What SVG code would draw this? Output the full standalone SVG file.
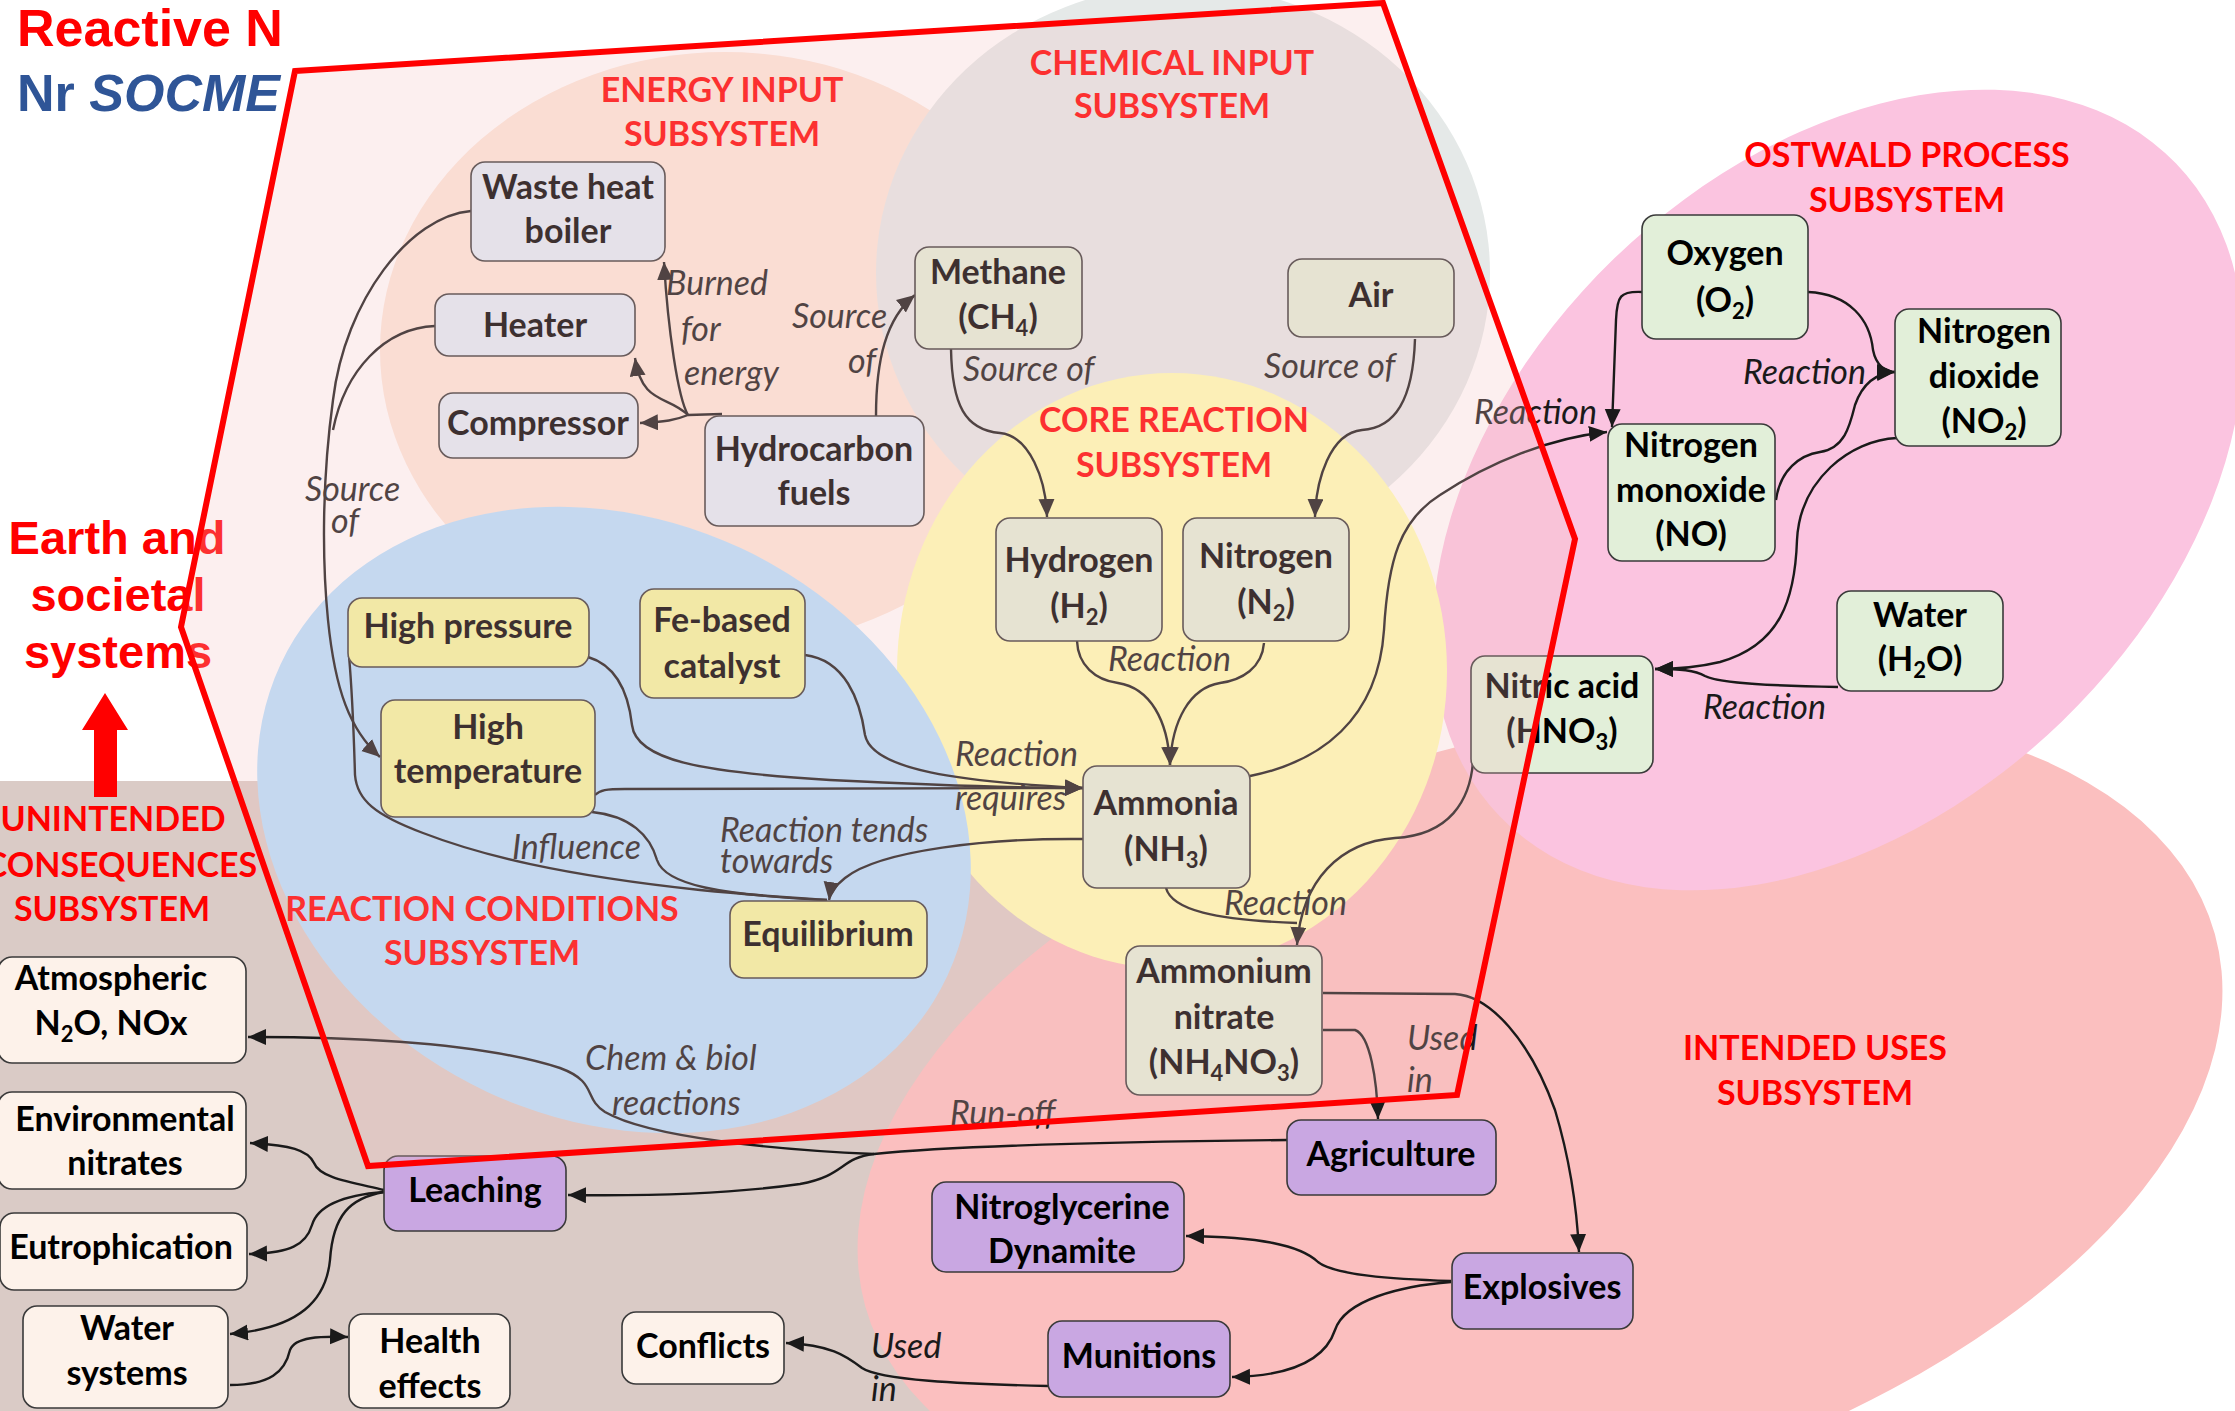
<svg xmlns="http://www.w3.org/2000/svg" width="2235" height="1411" viewBox="0 0 2235 1411">
<defs>
<style>
.n rect{stroke:#3a3a3a;stroke-width:1.6}
.en rect{fill:#E0ECF7}
.gr rect{fill:#E2EFD9}
.ye rect{fill:#F2F69E}
.un rect{fill:#FDF2EA}
.pu rect{fill:#C9A7E2}
.t{font-family:Lato,"Open Sans",sans-serif;font-weight:bold;font-size:34px;text-anchor:middle;fill:#000}
.l{font-family:Lato,"Open Sans",sans-serif;font-style:italic;font-size:34px;fill:#1a1a1a}
.s{font-family:Lato,"Open Sans",sans-serif;font-weight:bold;font-size:34px;text-anchor:middle;fill:#FF0000}
.c path{fill:none;stroke:#1a1a1a;stroke-width:2.4}
.a{marker-end:url(#ah)}
.sub{font-size:22px}
</style>
<marker id="ah" markerUnits="userSpaceOnUse" markerWidth="19" markerHeight="17" refX="18" refY="8" orient="auto">
<path d="M0,0 L18,8 L0,16 z" fill="#1a1a1a"/>
</marker>
</defs>
<rect width="2235" height="1411" fill="#fff"/>
<g id="backgrounds">
<rect x="0" y="781" width="1300" height="630" fill="#DACBC6"/>
<ellipse cx="725" cy="350" rx="345" ry="298" fill="#FCE7DA"/>
<ellipse cx="1183" cy="273" rx="307" ry="288" fill="#E5E9E8"/>
<ellipse cx="1540" cy="1120" rx="700" ry="382" transform="rotate(-15.4 1540 1120)" fill="#FBBFBF"/>
<ellipse cx="1838" cy="490" rx="470" ry="322" transform="rotate(-44 1838 490)" fill="#FBC4E0"/>
<ellipse cx="1172" cy="671" rx="275" ry="298" fill="#FFFFB4"/>
<ellipse cx="614" cy="820" rx="368" ry="300" transform="rotate(25 614 820)" fill="#B6E1FF"/>
</g>
<g id="subsystem-labels">
<text class="s" x="722" y="102">ENERGY INPUT</text>
<text class="s" x="722" y="146">SUBSYSTEM</text>
<text class="s" x="1172" y="75">CHEMICAL INPUT</text>
<text class="s" x="1172" y="118">SUBSYSTEM</text>
<text class="s" x="1174" y="432">CORE REACTION</text>
<text class="s" x="1174" y="477">SUBSYSTEM</text>
<text class="s" x="1907" y="167">OSTWALD PROCESS</text>
<text class="s" x="1907" y="212">SUBSYSTEM</text>
<text class="s" x="482" y="921">REACTION CONDITIONS</text>
<text class="s" x="482" y="965">SUBSYSTEM</text>
<text class="s" x="113" y="831">UNINTENDED</text>
<text class="s" x="121" y="877">CONSEQUENCES</text>
<text class="s" x="112" y="921">SUBSYSTEM</text>
<text class="s" x="1815" y="1060">INTENDED USES</text>
<text class="s" x="1815" y="1105">SUBSYSTEM</text>
</g>
<g id="connectors" class="c">
<path d="M722,414 L688,415"/>
<path class="a" d="M688,415 C678,398 668,330 664,262"/>
<path class="a" d="M688,415 C668,395 642,405 635,358"/>
<path class="a" d="M688,415 C676,420 665,422 640,423"/>
<path class="a" d="M876,416 C876,360 886,318 915,295"/>
<path class="a" d="M471,211 C410,216 345,300 333,400 C322,480 322,560 328,620 C335,690 350,730 380,757"/>
<path d="M435,326 C385,328 345,370 333,430"/>
<path d="M349,656 C352,690 354,740 355,775 C357,800 375,815 423,833 C480,855 560,875 700,890 C760,896 800,898 827,900"/>
<path d="M592,812 C630,816 650,835 657,860 C665,885 720,895 827,900"/>
<path class="a" d="M1083,839 C990,838 880,850 845,878 C835,886 830,893 829,900"/>
<path class="a" d="M588,657 C615,665 628,690 632,725 C636,760 700,772 830,780 C950,786 1030,788 1083,788"/>
<path class="a" d="M805,655 C845,660 860,700 865,735 C872,770 960,782 1083,788"/>
<path class="a" d="M595,795 C600,790 606,789 625,789 L1083,788"/>
<path class="a" d="M951,349 C952,405 965,430 1000,433 C1030,436 1046,480 1047,517"/>
<path class="a" d="M1415,339 C1413,400 1395,428 1362,430 C1330,433 1316,480 1315,517"/>
<path class="a" d="M1077,641 C1078,665 1095,680 1118,683 C1150,688 1168,720 1170,765"/>
<path class="a" d="M1264,643 C1262,668 1242,680 1220,683 C1190,688 1172,720 1170,765"/>
<path class="a" d="M1250,776 C1320,762 1378,720 1384,630 C1388,560 1400,520 1440,495 C1490,462 1550,438 1607,432"/>
<path class="a" d="M1642,292 C1620,291 1617,296 1616,320 L1612,427"/>
<path class="a" d="M1808,292 C1850,294 1870,320 1873,350 C1876,365 1885,372 1895,372"/>
<path class="a" d="M1776,500 C1780,470 1800,455 1820,452 C1845,448 1850,425 1855,405 C1862,385 1875,373 1895,372"/>
<path class="a" d="M1897,438 C1850,440 1800,480 1797,540 C1795,600 1780,645 1720,662 C1695,668 1675,669 1655,669"/>
<path class="a" d="M1838,687 C1780,686 1720,684 1705,676 C1695,670 1680,669 1655,669"/>
<path class="a" d="M1473,762 C1470,800 1450,835 1395,838 C1340,842 1302,880 1297,945"/>
<path d="M1166,888 C1172,910 1215,920 1297,923"/>
<path class="a" d="M1323,1030 L1355,1030 C1370,1035 1377,1080 1378,1119"/>
<path class="a" d="M1323,993 L1455,994 C1490,996 1530,1040 1555,1110 C1570,1160 1577,1210 1579,1252"/>
<path class="a" d="M1287,1140 C1100,1142 950,1146 874,1154 C840,1158 845,1176 800,1184 C730,1194 640,1196 568,1195"/>
<path class="a" d="M874,1154 C780,1150 650,1138 605,1112 C583,1098 598,1082 560,1068 C480,1042 350,1037 248,1037"/>
<path class="a" d="M384,1190 C350,1182 320,1178 314,1163 C308,1150 290,1145 250,1143"/>
<path class="a" d="M384,1192 C345,1195 318,1205 312,1225 C306,1245 290,1253 249,1254"/>
<path class="a" d="M384,1192 C350,1198 333,1215 330,1260 C326,1300 300,1328 230,1334"/>
<path class="a" d="M230,1385 C270,1385 285,1372 290,1350 C295,1337 320,1336 348,1337"/>
<path class="a" d="M1451,1281 C1390,1279 1335,1275 1318,1262 C1300,1245 1260,1237 1186,1236"/>
<path class="a" d="M1451,1282 C1400,1286 1345,1300 1335,1330 C1325,1360 1290,1376 1232,1377"/>
<path class="a" d="M1048,1386 C960,1384 880,1380 862,1368 C845,1355 830,1345 786,1343"/>
<text class="l" x="666" y="295">Burned</text>
<text class="l" x="681" y="341">for</text>
<text class="l" x="684" y="385">energy</text>
<text class="l" x="792" y="328">Source</text>
<text class="l" x="848" y="373">of</text>
<text class="l" x="963" y="381">Source of</text>
<text class="l" x="1264" y="378">Source of</text>
<text class="l" x="305" y="501">Source</text>
<text class="l" x="331" y="533">of</text>
<text class="l" x="1108" y="671">Reaction</text>
<text class="l" x="955" y="766">Reaction</text>
<text class="l" x="955" y="810">requires</text>
<text class="l" x="720" y="842">Reaction tends</text>
<text class="l" x="720" y="873">towards</text>
<text class="l" x="512" y="859">Influence</text>
<text class="l" x="1474" y="424">Reaction</text>
<text class="l" x="1743" y="384">Reaction</text>
<text class="l" x="1703" y="719">Reaction</text>
<text class="l" x="1224" y="915">Reaction</text>
<text class="l" x="1407" y="1050">Used</text>
<text class="l" x="1407" y="1092">in</text>
<text class="l" x="950" y="1125">Run-off</text>
<text class="l" x="585" y="1070">Chem &amp; biol</text>
<text class="l" x="612" y="1115">reactions</text>
<text class="l" x="871" y="1358">Used</text>
<text class="l" x="871" y="1401">in</text>
</g>
<g id="wasteheat" class="n en"><rect x="471" y="162" width="194" height="99" rx="14"/><text class="t" x="568" y="199">Waste heat</text><text class="t" x="568" y="243">boiler</text></g>
<g id="heater" class="n en"><rect x="435" y="294" width="200" height="62" rx="14"/><text class="t" x="535" y="337">Heater</text></g>
<g id="compressor" class="n en"><rect x="439" y="393" width="199" height="65" rx="14"/><text class="t" x="538" y="435">Compressor</text></g>
<g id="hydrocarbon" class="n en"><rect x="705" y="416" width="219" height="110" rx="14"/><text class="t" x="814" y="461">Hydrocarbon</text><text class="t" x="814" y="505">fuels</text></g>
<g id="methane" class="n gr"><rect x="915" y="247" width="167" height="102" rx="14"/><text class="t" x="998" y="284">Methane</text><text class="t" x="998" y="329">(CH<tspan class="sub" dy="7">4</tspan><tspan dy="-7">)</tspan></text></g>
<g id="air" class="n gr"><rect x="1288" y="259" width="166" height="78" rx="14"/><text class="t" x="1371" y="307">Air</text></g>
<g id="hydrogen" class="n gr"><rect x="996" y="518" width="166" height="123" rx="14"/><text class="t" x="1079" y="572">Hydrogen</text><text class="t" x="1079" y="618">(H<tspan class="sub" dy="7">2</tspan><tspan dy="-7">)</tspan></text></g>
<g id="nitrogen" class="n gr"><rect x="1183" y="518" width="166" height="123" rx="14"/><text class="t" x="1266" y="568">Nitrogen</text><text class="t" x="1266" y="614">(N<tspan class="sub" dy="7">2</tspan><tspan dy="-7">)</tspan></text></g>
<g id="ammonia" class="n gr"><rect x="1083" y="766" width="167" height="122" rx="14"/><text class="t" x="1166" y="815">Ammonia</text><text class="t" x="1166" y="861">(NH<tspan class="sub" dy="7">3</tspan><tspan dy="-7">)</tspan></text></g>
<g id="ammoniumnitrate" class="n gr"><rect x="1126" y="946" width="196" height="149" rx="14"/><text class="t" x="1224" y="983">Ammonium</text><text class="t" x="1224" y="1029">nitrate</text><text class="t" x="1224" y="1074">(NH<tspan class="sub" dy="7">4</tspan><tspan dy="-7">NO</tspan><tspan class="sub" dy="7">3</tspan><tspan dy="-7">)</tspan></text></g>
<g id="nitricacid" class="n gr"><rect x="1471" y="656" width="182" height="117" rx="14"/><text class="t" x="1562" y="698">Nitric acid</text><text class="t" x="1562" y="743">(HNO<tspan class="sub" dy="7">3</tspan><tspan dy="-7">)</tspan></text></g>
<g id="oxygen" class="n gr"><rect x="1642" y="215" width="166" height="124" rx="14"/><text class="t" x="1725" y="265">Oxygen</text><text class="t" x="1725" y="312">(O<tspan class="sub" dy="7">2</tspan><tspan dy="-7">)</tspan></text></g>
<g id="nitrogendioxide" class="n gr"><rect x="1895" y="309" width="166" height="137" rx="14"/><text class="t" x="1984" y="343">Nitrogen</text><text class="t" x="1984" y="388">dioxide</text><text class="t" x="1984" y="433">(NO<tspan class="sub" dy="7">2</tspan><tspan dy="-7">)</tspan></text></g>
<g id="nitrogenmonoxide" class="n gr"><rect x="1608" y="424" width="167" height="137" rx="14"/><text class="t" x="1691" y="457">Nitrogen</text><text class="t" x="1691" y="502">monoxide</text><text class="t" x="1691" y="546">(NO)</text></g>
<g id="water" class="n gr"><rect x="1837" y="591" width="166" height="100" rx="14"/><text class="t" x="1920" y="627">Water</text><text class="t" x="1920" y="671">(H<tspan class="sub" dy="7">2</tspan><tspan dy="-7">O)</tspan></text></g>
<g id="highpressure" class="n ye"><rect x="348" y="598" width="241" height="69" rx="14"/><text class="t" x="468" y="638">High pressure</text></g>
<g id="fecatalyst" class="n ye"><rect x="640" y="589" width="165" height="109" rx="14"/><text class="t" x="722" y="632">Fe-based</text><text class="t" x="722" y="678">catalyst</text></g>
<g id="hightemperature" class="n ye"><rect x="381" y="700" width="214" height="117" rx="14"/><text class="t" x="488" y="739">High</text><text class="t" x="488" y="783">temperature</text></g>
<g id="equilibrium" class="n ye"><rect x="730" y="901" width="197" height="77" rx="14"/><text class="t" x="828" y="946">Equilibrium</text></g>
<g id="atmospheric" class="n un"><rect x="-2" y="957" width="248" height="106" rx="14"/><text class="t" x="111" y="990">Atmospheric</text><text class="t" x="111" y="1035">N<tspan class="sub" dy="7">2</tspan><tspan dy="-7">O, NOx</tspan></text></g>
<g id="envnitrates" class="n un"><rect x="-2" y="1092" width="248" height="97" rx="14"/><text class="t" x="125" y="1131">Environmental</text><text class="t" x="125" y="1175">nitrates</text></g>
<g id="eutrophication" class="n un"><rect x="0" y="1213" width="247" height="77" rx="14"/><text class="t" x="121" y="1259">Eutrophication</text></g>
<g id="watersystems" class="n un"><rect x="23" y="1306" width="205" height="102" rx="14"/><text class="t" x="127" y="1340">Water</text><text class="t" x="127" y="1385">systems</text></g>
<g id="healtheffects" class="n un"><rect x="349" y="1314" width="161" height="94" rx="14"/><text class="t" x="430" y="1353">Health</text><text class="t" x="430" y="1398">effects</text></g>
<g id="conflicts" class="n un"><rect x="622" y="1312" width="162" height="72" rx="14"/><text class="t" x="703" y="1358">Conflicts</text></g>
<g id="leaching" class="n pu"><rect x="384" y="1156" width="182" height="75" rx="14"/><text class="t" x="475" y="1202">Leaching</text></g>
<g id="agriculture" class="n pu"><rect x="1287" y="1120" width="209" height="75" rx="14"/><text class="t" x="1391" y="1166">Agriculture</text></g>
<g id="nitroglycerine" class="n pu"><rect x="932" y="1182" width="252" height="90" rx="14"/><text class="t" x="1062" y="1219">Nitroglycerine</text><text class="t" x="1062" y="1263">Dynamite</text></g>
<g id="explosives" class="n pu"><rect x="1452" y="1253" width="181" height="76" rx="14"/><text class="t" x="1542" y="1299">Explosives</text></g>
<g id="munitions" class="n pu"><rect x="1048" y="1321" width="182" height="76" rx="14"/><text class="t" x="1139" y="1368">Munitions</text></g>
<g id="earth">
<text x="117" y="554" font-family="'Liberation Sans',Arial,sans-serif" font-weight="bold" font-size="47" fill="#FF0000" text-anchor="middle">Earth and</text>
<text x="118" y="611" font-family="'Liberation Sans',Arial,sans-serif" font-weight="bold" font-size="47" fill="#FF0000" text-anchor="middle">societal</text>
<text x="118" y="668" font-family="'Liberation Sans',Arial,sans-serif" font-weight="bold" font-size="47" fill="#FF0000" text-anchor="middle">systems</text>
<polygon points="94,797 117,797 117,730 128,730 105,693 82,730 94,730" fill="#FF0000"/>
</g>
<g id="nr-boundary">
<polygon points="295,71 1383,3 1575,539 1457,1095 368,1166 181,627" fill="#F3BFBF" fill-opacity="0.25" stroke="#FF0000" stroke-width="6"/>
</g>
<g id="title" font-family="'Liberation Sans',Arial,sans-serif" font-weight="bold" font-size="52">
<text x="17" y="46" fill="#FF0000">Reactive N</text>
<text x="17" y="111" fill="#2F5597">Nr <tspan font-style="italic">SOCME</tspan></text>
</g>
</svg>
